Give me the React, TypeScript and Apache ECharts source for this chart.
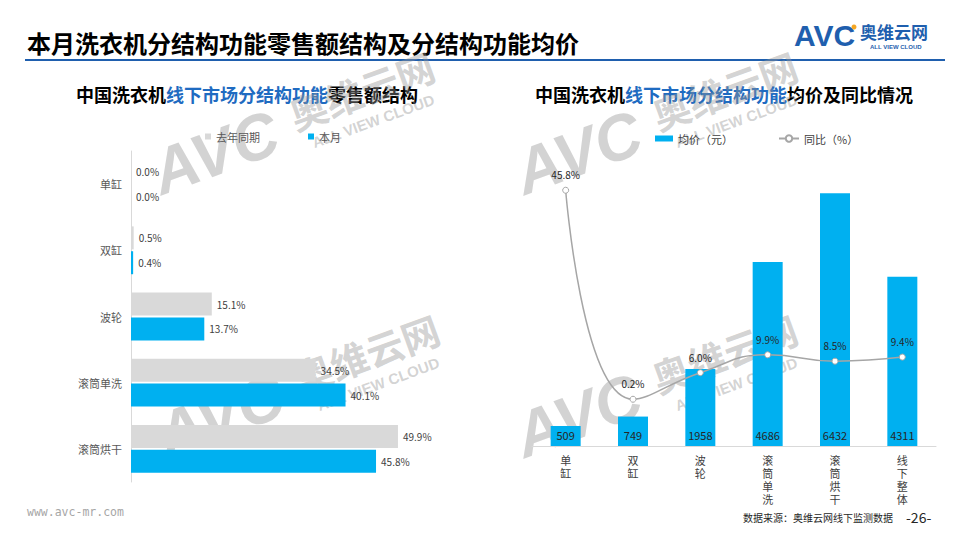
import React, { useEffect, useRef } from "react";
import * as echarts from "echarts";

const leftCategories = ["单缸", "双缸", "波轮", "滚筒单洗", "滚筒烘干"];
const lastYearShare = [0.0, 0.5, 15.1, 34.5, 49.9];
const thisMonthShare = [0.0, 0.4, 13.7, 40.1, 45.8];

const rightCategories = ["单缸", "双缸", "波轮", "滚筒单洗", "滚筒烘干", "线下整体"];
const avgPrice = [509, 749, 1958, 4686, 6432, 4311];
const yoyRate = [45.8, 0.2, 6.0, 9.9, 8.5, 9.4];

const CJK = '"Noto Sans CJK SC", "Noto Sans", sans-serif';
const BLUE = "#00B0F0";
const GRAY = "#D9D9D9";
const DARKBLUE = "#1F5FAE";
const HIBLUE = "#1F6BC1";
const WM = "rgba(150,150,150,0.42)";

function watermark(x: number, y: number) {
  return {
    type: "group",
    x,
    y,
    rotation: 0.35,
    z: 200,
    silent: true,
    children: [
      {
        type: "text",
        x: 0,
        y: 0,
        style: { text: "AVC", fontSize: 64, fontWeight: "bold", fontStyle: "italic", fontFamily: "Arial, Liberation Sans", fill: WM, verticalAlign: "bottom", align: "left" },
      },
      {
        type: "text",
        x: 148,
        y: -22,
        style: { text: "奥维云网", fontSize: 38, fontWeight: "bold", fontFamily: CJK, fill: WM, verticalAlign: "bottom", align: "left" },
      },
      {
        type: "text",
        x: 160,
        y: 0,
        style: { text: "ALL VIEW CLOUD", fontSize: 15, fontWeight: "bold", fontFamily: "Arial, Liberation Sans", fill: WM, verticalAlign: "bottom", align: "left" },
      },
    ],
  };
}

export default function App() {
  const ref = useRef<HTMLDivElement>(null);
  useEffect(() => {
    if (!ref.current) return;
    const chart = echarts.init(ref.current, null, { renderer: "svg" });
    const pct = (p: any) => Number(p.value).toFixed(1) + "%";
    chart.setOption({
      animation: false,
      backgroundColor: "#fff",
      textStyle: { fontFamily: CJK },
      legend: [
        {
          data: ["去年同期", "本月"],
          left: 200,
          top: 126,
          icon: "rect",
          itemWidth: 6,
          itemHeight: 6,
          itemGap: 48,
          textStyle: { fontSize: 11, color: "#595959", fontFamily: CJK },
        },
        {
          data: ["均价（元）"],
          left: 650,
          top: 128,
          icon: "rect",
          itemWidth: 18,
          itemHeight: 6,
          textStyle: { fontSize: 11, color: "#404040", fontFamily: CJK },
        },
        {
          data: ["同比（%）"],
          left: 773,
          top: 128,
          itemWidth: 20,
          itemHeight: 8,
          textStyle: { fontSize: 11, color: "#404040", fontFamily: CJK },
        },
      ],
      grid: [
        { left: 131, top: 151, width: 321, height: 331 },
        { left: 532, top: 171, width: 404, height: 275 },
      ],
      xAxis: [
        { type: "value", gridIndex: 0, min: 0, max: 60, show: false },
        {
          type: "category",
          gridIndex: 1,
          data: rightCategories,
          axisLine: { lineStyle: { color: GRAY, width: 1 } },
          axisTick: { show: false },
          axisLabel: {
            fontSize: 11,
            color: "#404040",
            lineHeight: 13,
            margin: 7,
            interval: 0,
            formatter: (v: string) => v.split("").join("\n"),
          },
        },
      ],
      yAxis: [
        {
          type: "category",
          gridIndex: 0,
          data: leftCategories,
          inverse: true,
          axisLine: { lineStyle: { color: GRAY, width: 1 } },
          axisTick: { show: false },
          axisLabel: { fontSize: 11, color: "#595959", margin: 9 },
        },
        { type: "value", gridIndex: 1, min: 0, max: 7000, show: false, splitLine: { show: false } },
        { type: "value", gridIndex: 1, min: -10, max: 50, show: false, splitLine: { show: false } },
      ],
      series: [
        {
          name: "去年同期",
          type: "bar",
          xAxisIndex: 0,
          yAxisIndex: 0,
          data: lastYearShare,
          barWidth: 23,
          barGap: "8%",
          itemStyle: { color: GRAY },
          label: { show: true, position: "right", distance: 5, fontSize: 10, color: "#404040", formatter: pct },
        },
        {
          name: "本月",
          type: "bar",
          xAxisIndex: 0,
          yAxisIndex: 0,
          data: thisMonthShare,
          barWidth: 23,
          barGap: "8%",
          itemStyle: { color: BLUE },
          label: { show: true, position: "right", distance: 5, fontSize: 10, color: "#404040", formatter: pct },
        },
        {
          name: "均价（元）",
          type: "bar",
          xAxisIndex: 1,
          yAxisIndex: 1,
          data: avgPrice,
          barWidth: 30,
          itemStyle: { color: BLUE },
          label: { show: true, position: "insideBottom", distance: 6, fontSize: 11, color: "#262626" },
        },
        {
          name: "同比（%）",
          type: "line",
          xAxisIndex: 1,
          yAxisIndex: 2,
          data: yoyRate,
          smooth: true,
          symbol: "circle",
          symbolSize: 6,
          lineStyle: { color: "#A6A6A6", width: 1.5 },
          itemStyle: { color: "#fff", borderColor: "#A6A6A6", borderWidth: 1 },
          label: { show: true, position: "top", distance: 7, fontSize: 10, color: "#262626", formatter: pct },
          z: 5,
        },
      ],
      graphic: [
        {
          type: "text",
          x: 27,
          y: 42,
          style: { text: "本月洗衣机分结构功能零售额结构及分结构功能均价", fontSize: 24, fontWeight: "bold", fontFamily: CJK, fill: "#000", verticalAlign: "middle", align: "left" },
        },
        {
          type: "line",
          shape: { x1: 25, y1: 60, x2: 945, y2: 60 },
          style: { stroke: DARKBLUE, lineWidth: 2 },
        },
        {
          type: "text",
          x: 247,
          y: 94,
          style: {
            text: "{a|中国洗衣机}{b|线下市场分结构功能}{a|零售额结构}",
            align: "center",
            verticalAlign: "middle",
            rich: {
              a: { fontSize: 18, fontWeight: "bold", fontFamily: CJK, fill: "#000", color: "#000" },
              b: { fontSize: 18, fontWeight: "bold", fontFamily: CJK, fill: HIBLUE, color: HIBLUE },
            },
          },
        },
        {
          type: "text",
          x: 724,
          y: 94,
          style: {
            text: "{a|中国洗衣机}{b|线下市场分结构功能}{a|均价及同比情况}",
            align: "center",
            verticalAlign: "middle",
            rich: {
              a: { fontSize: 18, fontWeight: "bold", fontFamily: CJK, fill: "#000", color: "#000" },
              b: { fontSize: 18, fontWeight: "bold", fontFamily: CJK, fill: HIBLUE, color: HIBLUE },
            },
          },
        },
        // logo
        {
          type: "text",
          x: 794,
          y: 35,
          style: { text: "AVC", fontSize: 30, fontWeight: "bold", fontFamily: "Arial, Liberation Sans", fill: DARKBLUE, verticalAlign: "middle", align: "left" },
        },
        { type: "circle", shape: { cx: 854, cy: 27, r: 2.5 }, style: { fill: "#F5A623" } },
        {
          type: "text",
          x: 860,
          y: 31,
          style: { text: "奥维云网", fontSize: 17, fontWeight: "bold", fontFamily: CJK, fill: DARKBLUE, verticalAlign: "middle", align: "left" },
        },
        {
          type: "text",
          x: 870,
          y: 47,
          style: { text: "ALL VIEW CLOUD", fontSize: 6, fontWeight: "bold", fontFamily: "Arial, Liberation Sans", fill: DARKBLUE, verticalAlign: "middle", align: "left" },
        },
        // footer
        {
          type: "text",
          x: 27,
          y: 512,
          style: { text: "www.avc-mr.com", fontSize: 11.5, fontFamily: '"DejaVu Sans Mono", "Liberation Mono", monospace', fill: "#A6A6A6", verticalAlign: "middle", align: "left" },
        },
        {
          type: "text",
          x: 893,
          y: 517,
          style: { text: "数据来源：奥维云网线下监测数据", fontSize: 10, fontFamily: CJK, fill: "#262626", verticalAlign: "middle", align: "right" },
        },
        {
          type: "text",
          x: 906,
          y: 517,
          style: { text: "-26-", fontSize: 14, fontFamily: CJK, fill: "#262626", verticalAlign: "middle", align: "left" },
        },
        watermark(165, 205),
        watermark(170, 468),
        watermark(528, 205),
        watermark(528, 468),
      ],
    });
    return () => chart.dispose();
  }, []);
  return <div ref={ref} style={{ position: "fixed", left: 0, top: 0, width: 960, height: 540 }} />;
}
